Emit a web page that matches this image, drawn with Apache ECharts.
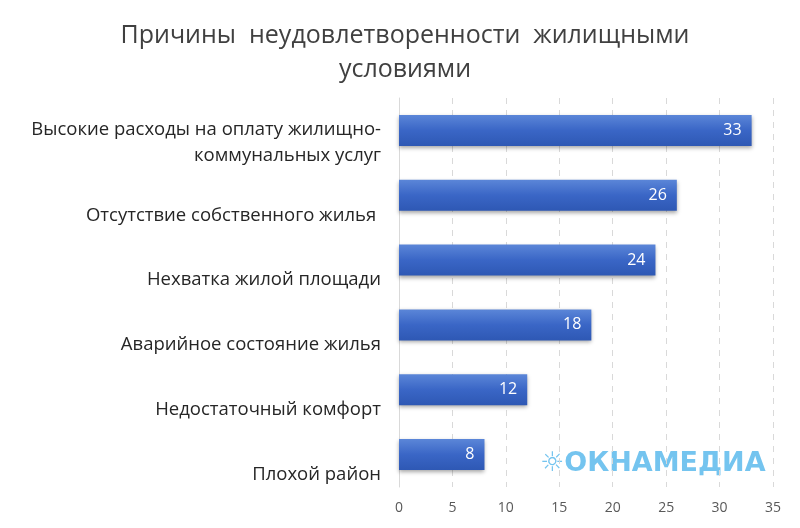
<!DOCTYPE html>
<html><head><meta charset="utf-8">
<script src="https://cdn.jsdelivr.net/npm/echarts@6/dist/echarts.min.js"></script>
<style>html,body{margin:0;background:#fff}#c{width:800px;height:528px}</style>
</head><body><div id="c"></div>
<script>
// причины, снизу вверх
const categories = ['Плохой район', 'Недостаточный комфорт', 'Аварийное состояние жилья',
  'Нехватка жилой площади', 'Отсутствие собственного жилья ',
  'Высокие расходы на оплату жилищно-\nкоммунальных услуг'];
const values = [8, 12, 18, 24, 26, 33];
const ticks = [0, 5, 10, 15, 20, 25, 30, 35];

const lbl = { color: '#262626', fontFamily: 'Open Sans', fontSize: 18.5, lineHeight: 26, align: 'right' };

const chart = echarts.init(document.getElementById('c'));
chart.setOption({
  title: {
    text: 'Причины  неудовлетворенности  жилищными\nусловиями',
    left: 400, top: 14, textAlign: 'center',
    textStyle: { fontFamily: 'Open Sans', fontWeight: 'normal', fontSize: 25, color: '#404040', lineHeight: 34 }
  },
  graphic: [{
    type: 'text', left: 540, top: 450,
    style: { text: '☼ОКНАМЕДИА', fontFamily: 'DejaVu Sans', fontWeight: 'bold', fontSize: 27, fill: '#74c4ef' }
  }],
  grid: { left: 399, right: 27, top: 98, bottom: 41 },
  xAxis: {
    type: 'value', min: 0, max: 35, interval: 5,
    axisLabel: { color: '#595959', fontFamily: 'Open Sans', fontSize: 14, margin: 14 },
    splitLine: { lineStyle: { type: [6, 6], color: '#d9d9d9' } }
  },
  yAxis: {
    type: 'category', data: categories,
    axisTick: { show: false },
    axisLine: { lineStyle: { color: '#d9d9d9' } },
    axisLabel: {
      margin: 18,
      formatter: v => {
        const p = v.split('\n');
        if (p.length > 1) return '{e| }\n{b|' + p[0] + '}\n{b|' + p[1] + '}';
        return '{a|' + v + '}';
      },
      rich: {
        a: Object.assign({ padding: [40, 0, 0, 0] }, lbl),
        e: Object.assign({}, lbl, { lineHeight: 24 }),
        b: Object.assign({}, lbl)
      }
    }
  },
  series: [{
    type: 'bar', data: values, barWidth: 31,
    itemStyle: {
      color: new echarts.graphic.LinearGradient(0, 0, 0, 1, [
        { offset: 0, color: '#5b86d8' }, { offset: 0.5, color: '#3a66c6' }, { offset: 1, color: '#2e58b4' }]),
      shadowBlur: 4, shadowOffsetY: 2, shadowColor: 'rgba(0,0,0,0.35)'
    },
    label: { show: true, position: 'insideRight', color: '#fff', fontFamily: 'Open Sans', fontSize: 16, distance: 10 }
  }]
});
</script></body></html>
